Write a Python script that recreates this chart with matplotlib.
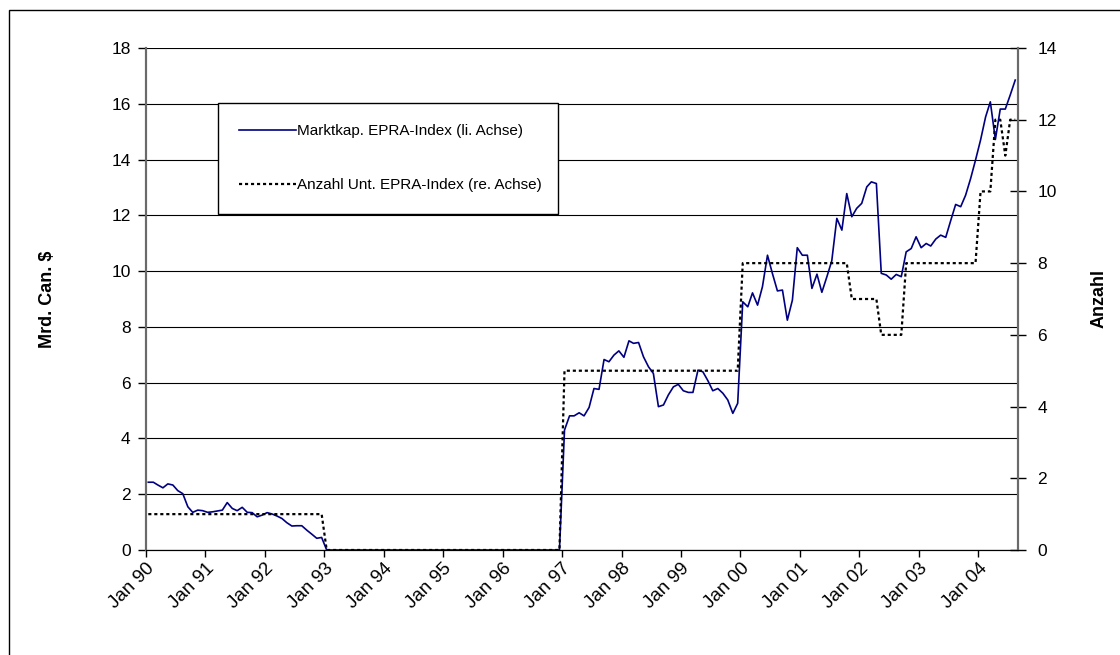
import numpy as np
import pandas as pd
import matplotlib
matplotlib.use("Agg")
import matplotlib.pyplot as plt
import matplotlib.dates as mdates
from matplotlib.lines import Line2D
from matplotlib.patches import Rectangle

plt.rcParams['font.family'] = ['Liberation Sans', 'DejaVu Sans']

# Marktkapitalisierung EPRA-Index, Mrd. Can. $ (monthly, Jan 90 - Aug 04)
mk_1990 = [2.43, 2.43, 2.33, 2.23, 2.37, 2.33, 2.13, 2.02, 1.55, 1.35, 1.43, 1.41]
mk_1991 = [1.35, 1.37, 1.40, 1.43, 1.70, 1.49, 1.41, 1.53, 1.35, 1.34, 1.19, 1.25]
mk_1992 = [1.34, 1.29, 1.22, 1.13, 0.98, 0.86, 0.87, 0.87, 0.71, 0.57, 0.42, 0.45]
mk_1993 = [0, 0, 0, 0, 0, 0, 0, 0, 0, 0, 0, 0]
mk_1994 = [0, 0, 0, 0, 0, 0, 0, 0, 0, 0, 0, 0]
mk_1995 = [0, 0, 0, 0, 0, 0, 0, 0, 0, 0, 0, 0]
mk_1996 = [0, 0, 0, 0, 0, 0, 0, 0, 0, 0, 0, 0]
mk_1997 = [4.30, 4.81, 4.81, 4.92, 4.81, 5.11, 5.79, 5.76, 6.83, 6.75, 6.99, 7.14]
mk_1998 = [6.91, 7.50, 7.41, 7.44, 6.93, 6.57, 6.33, 5.14, 5.20, 5.56, 5.85, 5.94]
mk_1999 = [5.71, 5.65, 5.65, 6.45, 6.39, 6.07, 5.71, 5.79, 5.62, 5.38, 4.90, 5.26]
mk_2000 = [8.90, 8.72, 9.22, 8.78, 9.44, 10.57, 9.92, 9.29, 9.32, 8.24, 8.96, 10.84]
mk_2001 = [10.57, 10.57, 9.38, 9.89, 9.24, 9.80, 10.37, 11.89, 11.47, 12.78, 11.95, 12.25]
mk_2002 = [12.43, 13.02, 13.20, 13.14, 9.92, 9.86, 9.71, 9.88, 9.80, 10.69, 10.81, 11.23]
mk_2003 = [10.84, 10.99, 10.90, 11.15, 11.29, 11.21, 11.80, 12.39, 12.31, 12.72, 13.32, 13.98]
mk_2004 = [14.70, 15.53, 16.07, 14.72, 15.81, 15.81, 16.31, 16.85]

# Anzahl Unternehmen im EPRA-Index
n_1990 = [1, 1, 1, 1, 1, 1, 1, 1, 1, 1, 1, 1]
n_1991 = [1, 1, 1, 1, 1, 1, 1, 1, 1, 1, 1, 1]
n_1992 = [1, 1, 1, 1, 1, 1, 1, 1, 1, 1, 1, 1]
n_1993 = [0, 0, 0, 0, 0, 0, 0, 0, 0, 0, 0, 0]
n_1994 = [0, 0, 0, 0, 0, 0, 0, 0, 0, 0, 0, 0]
n_1995 = [0, 0, 0, 0, 0, 0, 0, 0, 0, 0, 0, 0]
n_1996 = [0, 0, 0, 0, 0, 0, 0, 0, 0, 0, 0, 0]
n_1997 = [5, 5, 5, 5, 5, 5, 5, 5, 5, 5, 5, 5]
n_1998 = [5, 5, 5, 5, 5, 5, 5, 5, 5, 5, 5, 5]
n_1999 = [5, 5, 5, 5, 5, 5, 5, 5, 5, 5, 5, 5]
n_2000 = [8, 8, 8, 8, 8, 8, 8, 8, 8, 8, 8, 8]
n_2001 = [8, 8, 8, 8, 8, 8, 8, 8, 8, 8, 7, 7]
n_2002 = [7, 7, 7, 7, 6, 6, 6, 6, 6, 8, 8, 8]
n_2003 = [8, 8, 8, 8, 8, 8, 8, 8, 8, 8, 8, 8]
n_2004 = [10, 10, 10, 12, 12, 11, 12, 12]

marktkap = (mk_1990 + mk_1991 + mk_1992 + mk_1993 + mk_1994 + mk_1995 + mk_1996
            + mk_1997 + mk_1998 + mk_1999 + mk_2000 + mk_2001 + mk_2002 + mk_2003 + mk_2004)
anzahl = (n_1990 + n_1991 + n_1992 + n_1993 + n_1994 + n_1995 + n_1996
          + n_1997 + n_1998 + n_1999 + n_2000 + n_2001 + n_2002 + n_2003 + n_2004)

dates = pd.date_range('1990-01-01', periods=len(marktkap), freq='MS') + pd.Timedelta(days=14)

W, H = 1120, 655
fig = plt.figure(figsize=(W / 100, H / 100), dpi=100)
ax = fig.add_axes([146 / W, 1 - 550 / H, (1018 - 146) / W, 502 / H])
ax2 = ax.twinx()

ax.plot(dates, marktkap, color='#000080', lw=1.2, zorder=3)
ax2.plot(dates, anzahl, color='black', lw=1.6, linestyle=(0, (1.4, 1.3)),
         dash_capstyle='butt', zorder=3)

ax.set_xlim(pd.Timestamp('1990-01-01'), pd.Timestamp('2004-09-01'))
ax.set_ylim(0, 18)
ax2.set_ylim(0, 14)
ax.set_yticks(np.arange(0, 19, 2))
ax2.set_yticks(np.arange(0, 15, 2))

ax.grid(axis='y', color='black', lw=0.8)
ax.set_axisbelow(True)

ax.xaxis.set_major_locator(mdates.YearLocator())
ax.xaxis.set_major_formatter(mdates.DateFormatter('%b %y'))
for lab in ax.get_xticklabels():
    lab.set_rotation(45)
    lab.set_ha('right')
    lab.set_rotation_mode('anchor')

ax.tick_params(axis='x', direction='out', length=5, width=1, labelsize=13.5, pad=2)
ax.tick_params(axis='y', direction='out', length=6, width=1, labelsize=12.5, pad=5)
ax2.tick_params(axis='y', direction='inout', length=12, width=1, labelsize=12.5, pad=8)

for a in (ax, ax2):
    a.spines['top'].set_visible(False)
    a.spines['left'].set_color('#6a6a6a')
    a.spines['left'].set_linewidth(1.5)
    a.spines['right'].set_color('#6a6a6a')
    a.spines['right'].set_linewidth(1.5)
    a.spines['bottom'].set_color('black')

ax.set_ylabel('Mrd. Can. $', fontsize=13, fontweight='bold', labelpad=40)
ax2.set_ylabel('Anzahl', fontsize=13, fontweight='bold', labelpad=24)

handles = [Line2D([], [], color='#000080', lw=1.2),
           Line2D([], [], color='black', lw=1.6, linestyle=(0, (1.4, 1.3)), dash_capstyle='butt')]
labels = ['Marktkap. EPRA-Index (li. Achse)', 'Anzahl Unt. EPRA-Index (re. Achse)']
leg = ax2.legend(handles, labels, loc='upper left', mode='expand',
                 bbox_to_anchor=(218 / W, 1 - 212 / H, 340 / W, 109 / H),
                 bbox_transform=fig.transFigure, fontsize=11, frameon=True,
                 fancybox=False, framealpha=1, edgecolor='black', borderaxespad=0,
                 handlelength=3.7, handletextpad=0.1, labelspacing=2.6, borderpad=1.4)
leg.get_frame().set_linewidth(1.0)

# outer chart frame
fig.add_artist(Rectangle((9 / W, -0.2), 1.2, 1.2 - 10 / H, transform=fig.transFigure,
                         fill=False, edgecolor='black', lw=1.0))

fig.savefig('out.png', dpi=100)
